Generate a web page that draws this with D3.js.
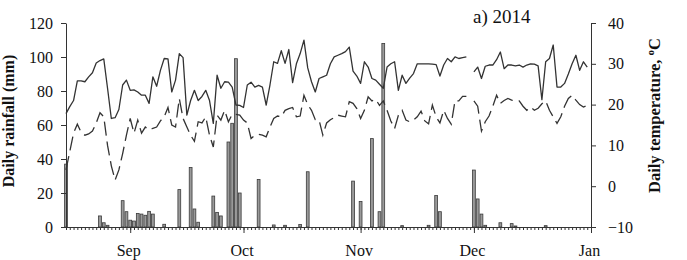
<!DOCTYPE html>
<html><head><meta charset="utf-8">
<script src="https://cdn.jsdelivr.net/npm/d3@7"></script>
<style>
body{margin:0;background:#fff}
svg{display:block}
text{font-family:"Liberation Serif","Times New Roman",serif;fill:#111}
</style>
</head><body>
<svg id="c" width="687" height="260"></svg>
<script>
// ---- data (daily, starting 15 Aug 2014) ----
const startDate = new Date(2014, 7, 15);
const endDate = new Date(2015, 0, 1);
const panelLabel = "a) 2014";
const leftTitle = "Daily rainfall (mm)";
const rightTitle = "Daily temperature, ";
const rainTicks = [0, 20, 40, 60, 80, 100, 120];
const tempTicks = [-10, 0, 10, 20, 30, 40];

const rainfall = [
  37,0,0,0,0,0,0,0,0,6.5,
  2.5,1,0,0,0,15.5,9,4,3.5,8,
  7.6,6.9,9.2,7.6,0,0,1.6,0,0,0,
  22,0,0,35,10.6,2.8,0,0,0,18.2,
  8.6,6.5,0,50,61,99,20,0,0,0,
  0,28,0,0,0,1.2,0,0,1,0,
  0,0,1.5,0,32.5,0,0,0,0,0,
  0,0,0,0,0,0,27,0,15,0,
  0,52,0,9,108,0,0,0,0,0.8,
  0,0,0,0,0,0,1,0,18.5,9,
  0,0,0,0,0,0,0,0,33.5,16.5,
  7.6,1,0,0,0,2.5,0,0,2,0.6,
  0,0,0,0,0,0,0,0.8,0,0,
  0,0,0,0,0,0,0,0,0
];

const tMax = [
  17.8,19.5,21,25.8,25.8,25.6,26.8,27.8,30.2,30.8,
  31.2,24,16.6,16.8,18.8,24.8,26,23.5,23.6,23.1,
  22.3,22.3,20.3,26.8,24.5,28.4,31.3,31.2,23.1,26,
  32.5,31.5,17.4,21,23.5,21,22,23.5,21,15.4,
  27.2,24,25.6,25.5,24.3,19.9,19.8,19.3,24.8,25.5,
  24.3,24.7,24.3,19.9,24.8,30.5,30.1,33.2,30.1,33.5,
  25.4,30,32.5,35.8,29,25.6,23.1,26.4,26.8,27.2,
  30,31.7,32.1,32.5,33,34.1,28.2,27,25.2,30.5,
  29.2,26.4,26,25,24,29.2,30,30.5,23.5,27.2,
  25.2,26.5,27.6,30,30,30,30,29.9,29.8,27,
  29.7,31.3,30.5,31.7,31.3,31.5,31.7,null,28,29.2,
  26.4,29.4,29.7,29.7,31,32.9,28.8,29.7,29.7,29.5,
  29.7,29.2,29.7,30,29.9,29.5,21.2,30.5,31.3,34.6,
  24.3,24.3,25.2,27.5,30,32.1,28.4,30.5,29.2
];

const tMin = [
  4,8.5,13,15.2,13.2,12.5,12.8,13.5,15.5,18,
  17,10,5,1.5,4,8,12.5,16.6,13,16.2,
  13,14.5,13.8,14.2,14.5,16,17,19.3,15,14.5,
  21.5,16.6,14.5,12.5,11,15.8,15.5,17,12.5,9.6,
  17.4,16.2,18.6,15.8,17.6,17.6,17.4,16.2,15.5,11.7,
  12.5,12.7,12.5,12.1,14.5,16.6,17.2,17,18.6,19,
  19.3,17,17.2,22.3,20,18.6,16.3,16.2,12.5,15.5,
  16.3,16.8,17.4,17.2,17,20.7,20.3,19,16.6,18.6,
  21.9,20.9,21.3,19.8,20.9,18.6,16,14.1,17.4,18.6,
  16.2,15.8,16.2,17,18.4,16,15.3,19.9,17,15.5,
  18.6,16.6,15.2,21,20.9,22,22,null,20.9,19.6,
  13.5,15.8,17.2,19.6,22.3,20.3,21,21.5,21.1,20.9,
  20.9,19.6,18.6,19.4,18.6,19.1,20.2,20.9,18.6,17,
  15.4,17,19.6,21.5,22.3,21.1,20,19.4,19.8
];

// ---- drawing ----
const svg = d3.select("#c");
const L = 66, R = 591, T = 23, B = 227;
const x = d3.scaleTime().domain([startDate, endDate]).range([L, R]);
const yR = d3.scaleLinear().domain([0, 120]).range([B, T]);
const yT = d3.scaleLinear().domain([-10, 40]).range([B, T]);
const dates = rainfall.map((_, i) => d3.timeDay.offset(startDate, i));
const ink = "#333";

// bars
svg.append("g").selectAll("rect")
  .data(rainfall.map((v, i) => ({d: dates[i], v})).filter(o => o.v > 0))
  .join("rect")
  .attr("x", o => x(o.d) - 1.4)
  .attr("width", 2.8)
  .attr("y", o => yR(o.v))
  .attr("height", o => B - yR(o.v))
  .attr("fill", "#9a9a9a")
  .attr("stroke", "#3a3a3a")
  .attr("stroke-width", 0.8);

// lines
const mkLine = arr => d3.line()
  .defined((_, i) => arr[i] !== null)
  .x((_, i) => x(dates[i]))
  .y((_, i) => yT(arr[i]));

svg.append("path").attr("d", mkLine(tMax)(tMax))
  .attr("fill", "none").attr("stroke", ink).attr("stroke-width", 1.3)
  .attr("stroke-linejoin", "round");
svg.append("path").attr("d", mkLine(tMin)(tMin))
  .attr("fill", "none").attr("stroke", ink).attr("stroke-width", 1.3)
  .attr("stroke-dasharray", "14,6");

// axes
function style(g) {
  g.selectAll("path,line").attr("stroke", ink).attr("stroke-width", 1);
  g.selectAll("text").attr("font-size", 16).attr("fill", "#111")
    .attr("font-family", '"Liberation Serif","Times New Roman",serif');
}
svg.append("g").attr("transform", `translate(${L},0)`)
  .call(d3.axisLeft(yR).tickValues(rainTicks).tickSize(5).tickSizeOuter(0).tickPadding(8))
  .call(style);
svg.append("g").attr("transform", `translate(${R},0)`)
  .call(d3.axisRight(yT).tickValues(tempTicks).tickSize(5).tickSizeOuter(0).tickPadding(12))
  .call(style);
svg.append("g").attr("transform", `translate(0,${B})`)
  .call(d3.axisBottom(x).ticks(d3.timeDay.every(1)).tickSize(3).tickSizeOuter(0).tickFormat(""))
  .call(style);
const mx = svg.append("g").attr("transform", `translate(0,${B})`)
  .call(d3.axisBottom(x).ticks(d3.timeMonth.every(1)).tickSize(6).tickSizeOuter(0)
        .tickFormat(d3.timeFormat("%b")))
  .call(style);
mx.selectAll("text").attr("y", 29).attr("dy", 0).attr("dx", -2);

// titles
svg.append("text").attr("transform", "translate(14,121) rotate(-90)")
  .attr("text-anchor", "middle").attr("font-weight", "bold").attr("font-size", 16)
  .text(leftTitle);
const rt = svg.append("text").attr("transform", "translate(660,115.5) rotate(-90)")
  .attr("text-anchor", "middle").attr("font-weight", "bold").attr("font-size", 16.5);
rt.append("tspan").text(rightTitle);
rt.append("tspan").attr("font-size", 11).attr("dy", -6).text("o");
rt.append("tspan").attr("dy", 6).text("C");

svg.append("text").attr("x", 473).attr("y", 23).attr("font-size", 19).text(panelLabel);
</script>
</body></html>
